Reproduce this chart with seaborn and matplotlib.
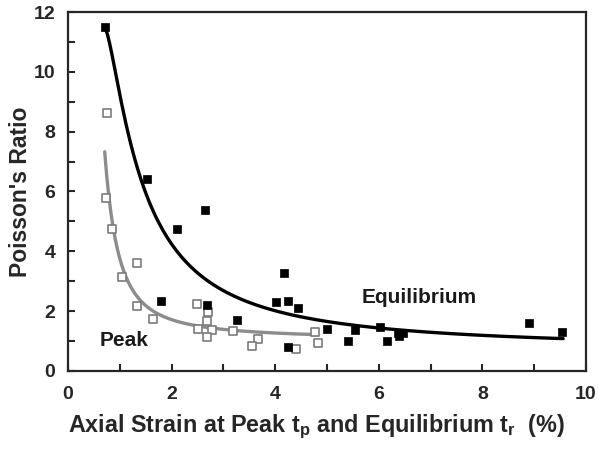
import numpy as np
import pandas as pd
import matplotlib
matplotlib.use('Agg')
import matplotlib.pyplot as plt
import seaborn as sns

# 平衡态 (实心方块)
eq_x = [0.72, 1.53, 1.79, 2.10, 2.64, 2.68, 3.26, 4.02, 4.17, 4.25, 4.44, 4.25,
        5.00, 5.41, 5.54, 6.02, 6.15, 6.37, 6.47, 6.40, 8.90, 9.54]
eq_y = [11.5, 6.42, 2.34, 4.75, 5.38, 2.20, 1.70, 2.31, 3.28, 2.34, 2.10, 0.80,
        1.40, 1.00, 1.37, 1.47, 1.00, 1.27, 1.27, 1.17, 1.60, 1.30]

# 峰值 (空心方块)
pk_x = [0.73, 0.75, 0.85, 1.04, 1.33, 1.33, 1.64, 2.49, 2.70, 2.68, 2.51, 2.78,
        2.68, 3.19, 3.67, 3.55, 4.77, 4.83, 4.40]
pk_y = [5.79, 8.63, 4.75, 3.14, 3.61, 2.17, 1.74, 2.24, 1.97, 1.67, 1.40, 1.37,
        1.14, 1.34, 1.07, 0.84, 1.30, 0.94, 0.74]

# 趋势线上读取的点
eq_fit_x = [0.72, 0.97, 1.16, 1.42, 1.81, 2.41, 2.84, 3.09, 3.80, 4.83, 5.50,
            6.12, 7.40, 9.56]
eq_fit_y = [11.5, 9.40, 7.96, 6.61, 4.70, 3.38, 2.78, 2.50, 2.10, 1.73, 1.63,
            1.50, 1.28, 0.97]
pk_fit_x = [0.71, 0.76, 0.87, 0.95, 1.00, 1.10, 1.24, 1.43, 1.68, 2.07, 2.45,
            3.20, 4.00, 4.80]
pk_fit_y = [7.22, 6.40, 5.05, 4.15, 3.61, 3.14, 2.71, 2.27, 1.94, 1.71, 1.60,
            1.45, 1.27, 1.10]


def trend(xs, ys, deg=3):
    # 拟合 y ~ poly(1/x)，得到平滑趋势线
    xs = np.asarray(xs)
    coef = np.polyfit(1.0 / xs, ys, deg)
    xx = np.linspace(xs.min(), xs.max(), 200)
    return pd.DataFrame({'x': xx, 'y': np.polyval(coef, 1.0 / xx)})


sns.set_style("ticks")
plt.rcParams['font.family'] = ['Liberation Sans', 'DejaVu Sans']
plt.rcParams['font.weight'] = 'bold'
plt.rcParams['mathtext.default'] = 'regular'

fig = plt.figure(figsize=(6.01, 4.49), dpi=100)
ax = fig.add_axes([0.113, 0.174, 0.862, 0.799])

eq_line = trend(eq_fit_x, eq_fit_y)
pk_line = trend(pk_fit_x, pk_fit_y)
sns.lineplot(data=eq_line, x='x', y='y', color='black', lw=2.4, sort=False,
             estimator=None, ax=ax)
sns.lineplot(data=pk_line, x='x', y='y', color='#8c8c8c', lw=2.4, sort=False,
             estimator=None, ax=ax)

sns.scatterplot(x=pk_x, y=pk_y, marker='s', s=34, facecolor='white',
                edgecolor='#7a7a7a', linewidth=1.2, ax=ax, zorder=3)
sns.scatterplot(x=eq_x, y=eq_y, marker='s', s=32, color='black',
                edgecolor='black', linewidth=0.5, ax=ax, zorder=4)

ax.text(6.78, 2.47, 'Equilibrium', fontsize=15, fontweight='bold',
        ha='center', va='center', color='#1a1a1a')
ax.text(0.62, 1.0, 'Peak', fontsize=15, fontweight='bold',
        ha='left', va='center', color='#1a1a1a')

ax.set_xlim(0, 10)
ax.set_ylim(0, 12)
ax.set_xticks(np.arange(0, 11, 2))
ax.set_xticks(np.arange(0, 11, 1), minor=True)
ax.set_yticks(np.arange(0, 13, 2))
ax.set_yticks(np.arange(0, 13, 1), minor=True)
ax.tick_params(which='both', direction='in', length=5, width=1.5,
               labelsize=14)
ax.tick_params(axis='x', pad=11)
ax.tick_params(axis='y', pad=9)
for lab in ax.get_xticklabels() + ax.get_yticklabels():
    lab.set_fontweight('bold')
for sp in ax.spines.values():
    sp.set_linewidth(1.6)

ax.set_xlabel(r'Axial Strain at Peak t$_p$ and Equilibrium t$_r$  (%)',
              fontsize=16.8, fontweight='bold')
ax.xaxis.set_label_coords(0.479, -0.117)
ax.set_ylabel("Poisson's Ratio", fontsize=16.5, fontweight='bold')
ax.yaxis.set_label_coords(-0.069, 0.5)

plt.savefig('out.png', dpi=100)
